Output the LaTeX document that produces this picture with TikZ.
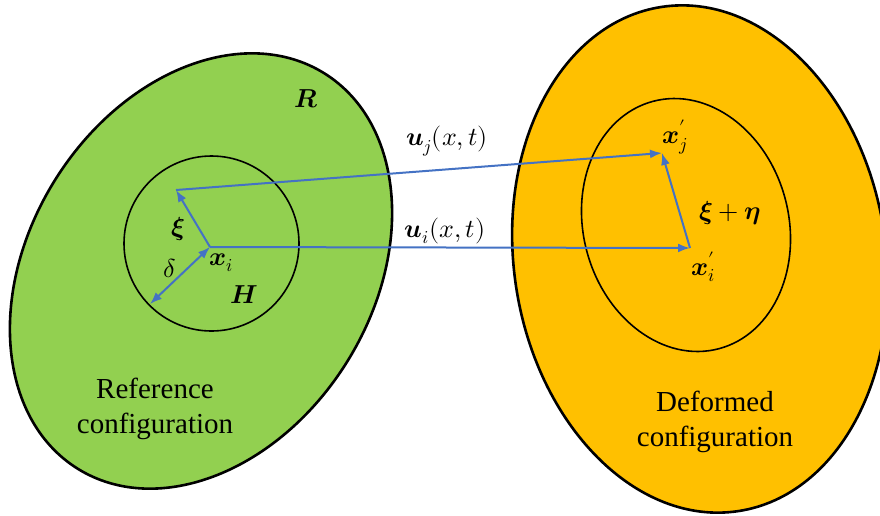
\documentclass[tikz,border=0pt]{standalone}
\usepackage{amsmath}
\usepackage{fontspec}
\usepackage{unicode-math}
\setmainfont{Liberation Serif}
\setmathfont{Latin Modern Math}
\usetikzlibrary{arrows.meta}
\definecolor{refgreen}{HTML}{92D050}
\definecolor{defyellow}{HTML}{FFC000}
\definecolor{arrblue}{HTML}{4472C4}
\tikzset{
  outerbody/.style={draw=black, line width=2.6pt},
  innerzone/.style={draw=black, line width=1.6pt},
  vecarrow/.style={draw=arrblue, line width=2pt, -{Latex[length=12pt,width=9pt]}},
  dvecarrow/.style={draw=arrblue, line width=2pt, {Latex[length=12pt,width=9pt]}-{Latex[length=12pt,width=9pt]}},
  mlabel/.style={inner sep=0pt, font=\fontsize{26}{30}\selectfont},
  tlabel/.style={inner sep=0pt, align=center, font=\fontsize{29}{35}\selectfont}
}
\begin{document}
\begin{tikzpicture}[x=1pt, y=-1pt]
\useasboundingbox (0,0) rectangle (880,515);
\clip (0,0) rectangle (880,515);
% bodies
\fill[white] (0,0) rectangle (880,515);
\draw[outerbody, fill=refgreen, rotate around={58:(201,271)}] (201,271) ellipse [x radius=233, y radius=172];
\draw[outerbody, fill=defyellow, rotate around={8.7:(700,259)}] (700,259) ellipse [x radius=186, y radius=255];
\draw[innerzone] (211.5,243.5) circle [radius=87.5];
\draw[innerzone, rotate around={15:(686,225)}] (686,225) ellipse [x radius=102.6, y radius=128];
% points
\coordinate (xi) at (210,247);
\coordinate (xitip) at (176,190);
\coordinate (deltatip) at (150,304);
\coordinate (xip) at (690,248);
\coordinate (xjp) at (662,153);
% vectors
\draw[vecarrow] (xi) -- (xitip);
\draw[dvecarrow] (xi) -- (deltatip);
\draw[vecarrow] (xitip) -- (xjp);
\draw[vecarrow] (xi) -- (xip);
\draw[vecarrow] (xip) -- (xjp);
% labels
\node[mlabel] (lR) at (306,99) {$\symbfit{R}$};
\node[mlabel] (lH) at (244,295) {$\symbfit{H}$};
\node[mlabel] (lxi) at (178,229) {$\symbfit{\xi}$};
\node[mlabel] (ldelta) at (170,268) {$\delta$};
\node[mlabel] (lxiI) at (221,263) {$\symbfit{x}_i$};
\node[mlabel] (luj) at (447,141) {$\symbfit{u}_j(x,t)$};
\node[mlabel] (lui) at (445,231) {$\symbfit{u}_i(x,t)$};
\node[mlabel] (lxjp) at (675,137) {$\symbfit{x}'_j$};
\node[mlabel] (lxieta) at (730,213) {$\symbfit{\xi}+\symbfit{\eta}$};
\node[mlabel] (lxip) at (703,267) {$\symbfit{x}'_i$};
\node[tlabel] (lref) at (155,409) {Reference\\configuration};
\node[tlabel] (ldef) at (715,422) {Deformed\\configuration};
\end{tikzpicture}
\end{document}
